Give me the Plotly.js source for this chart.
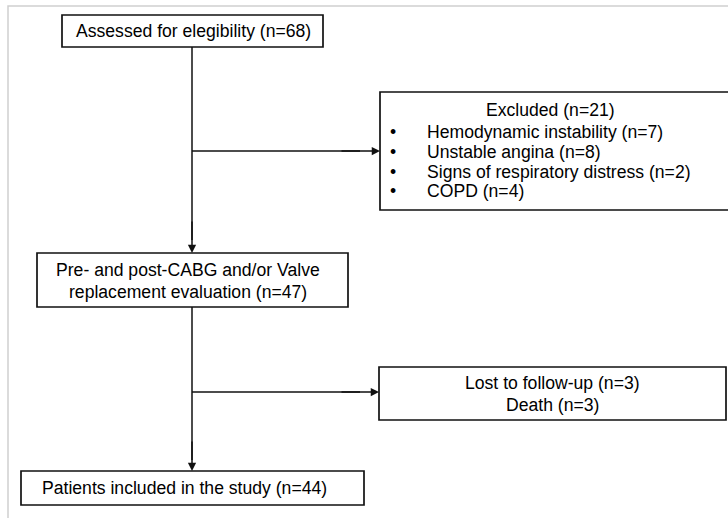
<!DOCTYPE html>
<html>
<head>
<meta charset="utf-8">
<script src="https://cdn.plot.ly/plotly-3.0.1.min.js"></script>
<style>html,body{margin:0;padding:0;background:#fff;}#chart{width:728px;height:518px;}</style>
</head>
<body>
<div id="chart"></div>
<script>
// ---- data ----
const assessedN = 68;
const excludedN = 21;
const excludedReasons = ["Hemodynamic instability", "Unstable angina", "Signs of respiratory distress", "COPD"];
const excludedCounts = [7, 8, 2, 4];
const evaluatedLabel = ["Pre- and post-CABG and/or Valve", "replacement evaluation"];
const evaluatedN = 47;
const lostLabels = ["Lost to follow-up", "Death"];
const lostCounts = [3, 3];
const includedN = 44;

// ---- layout helpers ----
const FONT = {family: "Liberation Sans, Arial, sans-serif", size: 17.6, color: "#000"};
const shapes = [];
const annotations = [];

function rect(x0, y0, x1, y1, color, w) {
  shapes.push({type: "rect", xref: "x", yref: "y", x0: x0, y0: y0, x1: x1, y1: y1,
    line: {color: color || "#111", width: w || 1.7}, fillcolor: "rgba(0,0,0,0)"});
}
function line(x0, y0, x1, y1) {
  shapes.push({type: "line", xref: "x", yref: "y", x0: x0, y0: y0, x1: x1, y1: y1,
    line: {color: "#111", width: 1.5}});
}
function arrow(x0, y0, x1, y1) {
  annotations.push({x: x1, y: y1, ax: x0, ay: y0, xref: "x", yref: "y", axref: "x", ayref: "y",
    text: "", showarrow: true, arrowhead: 2, arrowsize: 1.1, arrowwidth: 1.5, arrowcolor: "#111", standoff: 0});
}
function label(x, y, text, anchor) {
  annotations.push({x: x, y: y, xref: "x", yref: "y", text: text, showarrow: false,
    xanchor: anchor || "center", yanchor: "middle", font: FONT});
}

// outer frame
rect(8, 6, 740, 530, "#cfcfcf", 1.5);

// box 1
rect(62, 15, 323, 47);
label(193, 31, "Assessed for elegibility (n=" + assessedN + ")");

// excluded box
rect(380, 92, 735, 210);
label(550, 110, "Excluded (n=" + excludedN + ")");
excludedReasons.forEach(function (r, i) {
  const y = 132 + i * 19.8;
  label(393, y, "•");
  label(425, y, r + " (n=" + excludedCounts[i] + ")", "left");
});

// box 2
rect(37, 253, 348, 307);
label(188, 270, evaluatedLabel[0]);
label(188, 292, evaluatedLabel[1] + " (n=" + evaluatedN + ")");

// lost box
rect(379, 367, 726, 420);
lostLabels.forEach(function (l, i) {
  label(552, 383 + i * 22, l + " (n=" + lostCounts[i] + ")");
});

// box 3
rect(21, 471, 364, 505);
label(184, 488, "Patients included in the study (n=" + includedN + ")");

// connectors
line(192, 47, 192, 240);
arrow(192, 220, 192, 253);
line(192, 151, 360, 151);
arrow(340, 151, 380, 151);
line(192, 307, 192, 460);
arrow(192, 440, 192, 471);
line(192, 392, 360, 392);
arrow(340, 392, 379, 392);

const layout = {
  width: 728, height: 518,
  margin: {l: 0, r: 0, t: 0, b: 0, pad: 0},
  paper_bgcolor: "#fff", plot_bgcolor: "#fff",
  showlegend: false,
  xaxis: {range: [0, 728], visible: false, fixedrange: true},
  yaxis: {range: [518, 0], visible: false, fixedrange: true},
  shapes: shapes,
  annotations: annotations
};

Plotly.newPlot("chart", [{x: [], y: [], type: "scatter", hoverinfo: "skip"}], layout, {staticPlot: true, displayModeBar: false});
</script>
</body>
</html>
